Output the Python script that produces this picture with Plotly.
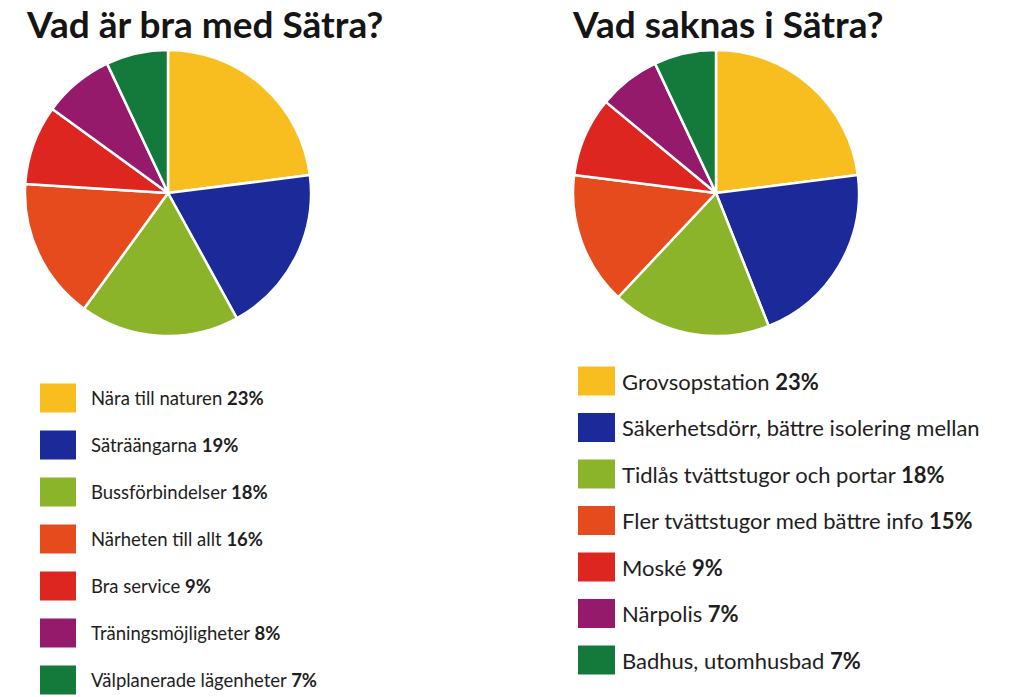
import plotly.graph_objects as go

W, H = 1024, 697

colors = ["#F8BD1F", "#1B2A98", "#8CB42A", "#E54B1C", "#DE2620", "#951A6B", "#137A3B"]

left_title = "Vad är bra med Sätra?"
left_labels = ["Nära till naturen", "Säträängarna", "Bussförbindelser", "Närheten till allt",
               "Bra service", "Träningsmöjligheter", "Välplanerade lägenheter"]
left_values = [23, 19, 18, 16, 9, 8, 7]

right_title = "Vad saknas i Sätra?"
right_labels = ["Grovsopstation", "Säkerhetsdörr, bättre isolering mellan",
                "Tidlås tvättstugor och portar", "Fler tvättstugor med bättre info",
                "Moské", "Närpolis", "Badhus, utomhusbad"]
right_values = [23, 21, 18, 15, 9, 7, 7]
right_show_pct = [True, False, True, True, True, True, True]

FONT = "Lato"

def px(x):
    return x / W

def py(y):
    return 1 - y / H

fig = go.Figure()

def add_pie(labels, values, cx, cy, r):
    fig.add_trace(go.Pie(
        labels=labels, values=values, sort=False, direction="clockwise", rotation=0,
        marker=dict(colors=colors, line=dict(color="white", width=2.5)),
        textinfo="none", hoverinfo="label+value", showlegend=False,
        domain=dict(x=[px(cx - r), px(cx + r)], y=[py(cy + r), py(cy - r)]),
    ))

add_pie(left_labels, left_values, 168, 193, 143)
add_pie(right_labels, right_values, 716, 193, 143)

shapes = []
annotations = []

for title, tx in [(left_title, 25), (right_title, 571)]:
    annotations.append(dict(text="<b>" + title + "</b>", x=px(tx), y=1, xref="paper", yref="paper",
                            xanchor="left", yanchor="top", showarrow=False, borderpad=0,
                            font=dict(family=FONT, size=37, color="#151515")))

def add_legend(labels, values, show, x0, y0, sw, sh, step, tx, fsize):
    for i, (lab, val) in enumerate(zip(labels, values)):
        cy = y0 + i * step
        shapes.append(dict(type="rect", xref="paper", yref="paper",
                           x0=px(x0), x1=px(x0 + sw), y0=py(cy + sh / 2), y1=py(cy - sh / 2),
                           fillcolor=colors[i], line=dict(width=0)))
        txt = lab + (" <b>%d%%</b>" % val if show[i] else "")
        annotations.append(dict(text=txt, x=px(tx), y=py(cy), xref="paper", yref="paper",
                                xanchor="left", yanchor="middle", showarrow=False,
                                font=dict(family=FONT, size=fsize, color="#1e1e1e")))

add_legend(left_labels, left_values, [True] * 7, 40, 398, 36, 29, 47, 89, 18.5)
add_legend(right_labels, right_values, right_show_pct, 578, 381, 37, 29, 46.5, 620, 22)

fig.update_layout(width=W, height=H, autosize=False, margin=dict(l=0, r=0, t=0, b=0),
                  paper_bgcolor="white", plot_bgcolor="white",
                  shapes=shapes, annotations=annotations)

fig.write_html("out.html")
